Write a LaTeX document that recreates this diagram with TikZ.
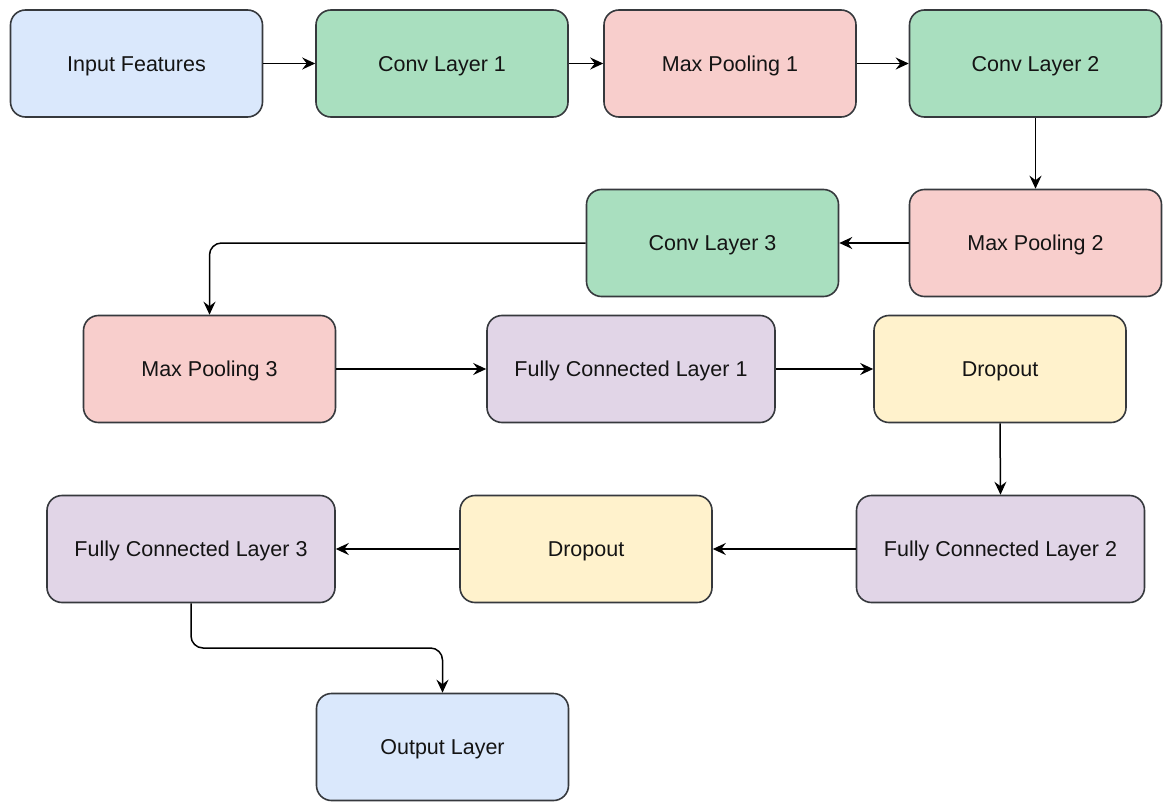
\documentclass[tikz,border=0pt]{standalone}
\usepackage{fontspec}
\setmainfont{Liberation Sans}
\usetikzlibrary{arrows.meta}
\definecolor{cblue}{HTML}{DAE8FC}
\definecolor{cgreen}{HTML}{A9DFBF}
\definecolor{cred}{HTML}{F8CECC}
\definecolor{cpurple}{HTML}{E1D5E7}
\definecolor{cyellow}{HTML}{FFF2CC}
\definecolor{cborder}{HTML}{36393D}
\tikzset{
  layerbox/.style={draw=cborder, line width=1.6pt, rounded corners=15pt,
    minimum height=107pt, inner sep=0pt, text=black!92,
    text height=15.5pt, text depth=0pt,
    font=\fontsize{21.5}{26}\selectfont},
  narrow/.style={minimum width=252pt},
  wide/.style={minimum width=288pt},
  flow/.style={draw=black, line width=1.5pt, rounded corners=12pt,
    -{Stealth[length=13pt, width=12pt, inset=4.5pt]}}
}
\begin{document}
\begin{tikzpicture}[x=1pt, y=-1pt]
  \useasboundingbox (0,0) rectangle (1163,803);

  % first row
  \node[layerbox, narrow, fill=cblue]   (in)   at (136.5,63.5) {Input Features};
  \node[layerbox, narrow, fill=cgreen]  (c1)   at (442,63.5)   {Conv Layer 1};
  \node[layerbox, narrow, fill=cred]    (mp1)  at (730,63.5)   {Max Pooling 1};
  \node[layerbox, narrow, fill=cgreen]  (c2)   at (1035.5,63.5) {Conv Layer 2};

  % second row
  \node[layerbox, narrow, fill=cred]    (mp2)  at (1035.5,243) {Max Pooling 2};
  \node[layerbox, narrow, fill=cgreen]  (c3)   at (712.5,243)  {Conv Layer 3};

  % third row
  \node[layerbox, narrow, fill=cred]    (mp3)  at (209.5,369)  {Max Pooling 3};
  \node[layerbox, wide,   fill=cpurple] (fc1)  at (631,369)    {Fully Connected Layer 1};
  \node[layerbox, narrow, fill=cyellow] (do1)  at (1000,369)   {Dropout};

  % fourth row
  \node[layerbox, wide,   fill=cpurple] (fc2)  at (1000.5,549) {Fully Connected Layer 2};
  \node[layerbox, narrow, fill=cyellow] (do2)  at (586,549)    {Dropout};
  \node[layerbox, wide,   fill=cpurple] (fc3)  at (191,549)    {Fully Connected Layer 3};

  % output
  \node[layerbox, narrow, fill=cblue]   (out)  at (442.5,747)  {Output Layer};

  % connectors
  \draw[flow] (in.east) -- (c1.west);
  \draw[flow] (c1.east) -- (mp1.west);
  \draw[flow] (mp1.east) -- (c2.west);
  \draw[flow] (c2.south) -- (mp2.north);
  \draw[flow] (mp2.west) -- (c3.east);
  \draw[flow] (c3.west) -| (mp3.north);
  \draw[flow] (mp3.east) -- (fc1.west);
  \draw[flow] (fc1.east) -- (do1.west);
  \draw[flow] (do1.south) -- (fc2.north);
  \draw[flow] (fc2.west) -- (do2.east);
  \draw[flow] (do2.west) -- (fc3.east);
  \draw[flow] (fc3.south) |- (317,648) -| (out.north);
\end{tikzpicture}
\end{document}
